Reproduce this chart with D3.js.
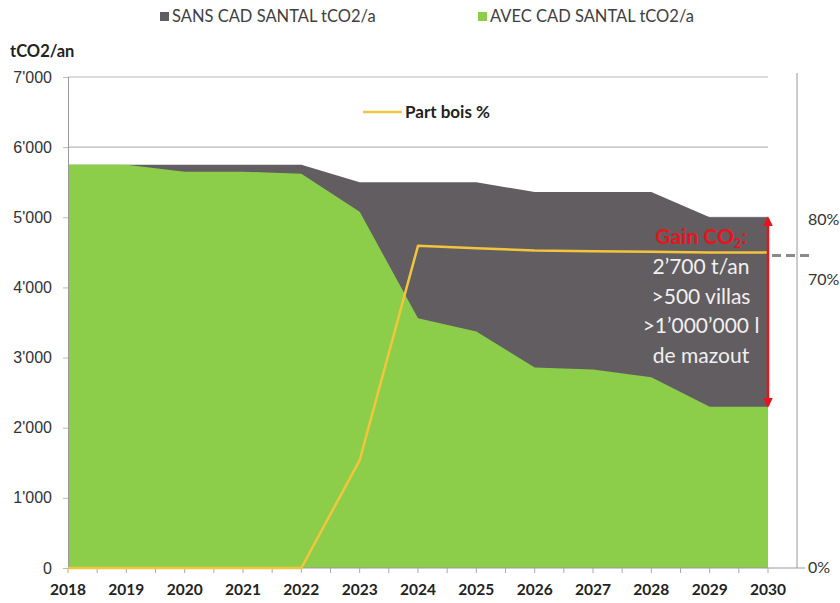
<!DOCTYPE html>
<html>
<head>
<meta charset="utf-8">
<script src="https://cdn.jsdelivr.net/npm/d3@7"></script>
<style>
  body { margin: 0; background: #fff; }
  svg { font-family: Lato, "Open Sans", sans-serif; }
</style>
</head>
<body>
<div id="chart"></div>
<script>
// values
const years = [2018, 2019, 2020, 2021, 2022, 2023, 2024, 2025, 2026, 2027, 2028, 2029, 2030];
const sansCad = [5750, 5750, 5750, 5750, 5750, 5500, 5500, 5500, 5360, 5360, 5360, 5000, 5000];
const avecCad = [5750, 5750, 5650, 5650, 5620, 5080, 3560, 3370, 2860, 2830, 2720, 2300, 2300];
const partBois = [0, 0, 0, 0, 0, 0.262, 0.757, 0.753, 0.749, 0.748, 0.747, 0.746, 0.746];
const yTicks = [0, 1000, 2000, 3000, 4000, 5000, 6000, 7000];
const pctTicks = [0, 0.7, 0.8];
const legendLabels = ["SANS CAD SANTAL tCO2/a", "AVEC CAD SANTAL tCO2/a"];
const gainLines = ["2\u2019700 t/an", ">500 villas", ">1\u2019000\u2019000 l", "de mazout"];

const width = 840, height = 603;
const margin = { top: 77, right: 72, bottom: 35, left: 68 };
const colSans = "#625d61", colAvec = "#8cce4a", colBois = "#f3c53c", colRed = "#e8141b";

const data = years.map((yr, i) => ({ year: yr, sans: sansCad[i], avec: avecCad[i], bois: partBois[i] }));

const svg = d3.select("#chart").append("svg")
  .attr("width", width)
  .attr("height", height);

let x = d3.scaleLinear()
  .domain([2018, 2030])
  .range([margin.left, 768]);

let y = d3.scaleLinear()
  .domain([0, 7000])
  .range([height - margin.bottom, margin.top]);

// secondary axis is not linear in the original (labels were placed by hand)
let yPct = d3.scaleLinear()
  .domain([0, 0.7, 0.8])
  .range([height - margin.bottom, 280, 220]);

const fmt = d => d3.format(",")(d).replace(/,/g, "'");

// gridlines
svg.append("g")
  .selectAll("line")
  .data(yTicks.slice(1))
  .join("line")
  .attr("x1", x(2018)).attr("x2", x(2030))
  .attr("y1", d => y(d)).attr("y2", d => y(d))
  .attr("stroke", "#b8b8b8")
  .attr("stroke-width", 1.2);

// areas
let areaSans = d3.area()
  .x(d => x(d.year))
  .y0(y(0))
  .y1(d => y(d.sans));

let areaAvec = d3.area()
  .x(d => x(d.year))
  .y0(y(0))
  .y1(d => y(d.avec));

svg.append("path").datum(data).attr("fill", colSans).attr("d", areaSans);
svg.append("path").datum(data).attr("fill", colAvec).attr("d", areaAvec);

// left axis
let yAxis = g => g
  .attr("transform", `translate(${margin.left},0)`)
  .call(d3.axisLeft(y).tickValues(yTicks).tickFormat(fmt).tickSize(5).tickPadding(11))
  .call(g => g.select(".domain").attr("stroke", "#999"))
  .call(g => g.selectAll(".tick line").attr("stroke", "#bbb"))
  .call(g => g.selectAll("text").attr("fill", "#333").attr("font-size", 16));

svg.append("g").call(yAxis);

// bottom axis (half-year minor ticks)
const xEnd = 797;
const halfTicks = d3.range(2018, 2030.5, 0.5);
svg.append("line")
  .attr("x1", margin.left).attr("x2", xEnd)
  .attr("y1", y(0)).attr("y2", y(0))
  .attr("stroke", "#999");
svg.append("g")
  .selectAll("line")
  .data(halfTicks)
  .join("line")
  .attr("x1", d => x(d)).attr("x2", d => x(d))
  .attr("y1", y(0)).attr("y2", y(0) + 5)
  .attr("stroke", "#aaa");
svg.append("g")
  .selectAll("text")
  .data(years)
  .join("text")
  .attr("x", d => x(d))
  .attr("y", y(0) + 27)
  .attr("text-anchor", "middle")
  .attr("font-size", 15.5)
  .attr("font-weight", "bold")
  .attr("fill", "#222")
  .text(d => d);

// right axis
svg.append("line")
  .attr("x1", xEnd).attr("x2", xEnd)
  .attr("y1", 73).attr("y2", y(0))
  .attr("stroke", "#999");
svg.append("line")
  .attr("x1", xEnd).attr("x2", xEnd + 8)
  .attr("y1", y(0)).attr("y2", y(0))
  .attr("stroke", "#999");
svg.append("g")
  .selectAll("text")
  .data(pctTicks)
  .join("text")
  .attr("x", 808)
  .attr("y", d => yPct(d) + 5)
  .attr("font-size", 16)
  .attr("fill", "#333")
  .text(d => d3.format(".0%")(d));

// part bois line
let line = d3.line()
  .x(d => x(d.year))
  .y(d => yPct(d.bois));

svg.append("path")
  .datum(data)
  .attr("fill", "none")
  .attr("stroke", colBois)
  .attr("stroke-width", 2.5)
  .attr("stroke-linejoin", "round")
  .attr("d", line);

// dashed marker to the right axis
const last = data[data.length - 1];
svg.append("line")
  .attr("x1", x(2030) + 4).attr("x2", 812)
  .attr("y1", yPct(last.bois) + 3).attr("y2", yPct(last.bois) + 3)
  .attr("stroke", "#8a8a8a")
  .attr("stroke-width", 3)
  .attr("stroke-dasharray", "9,5");

// gain arrow
const defs = svg.append("defs");
defs.append("marker")
  .attr("id", "arr")
  .attr("viewBox", "0 0 10 10")
  .attr("refX", 8).attr("refY", 5)
  .attr("markerWidth", 4).attr("markerHeight", 4)
  .attr("orient", "auto-start-reverse")
  .append("path")
  .attr("d", "M0,0 L10,5 L0,10 z")
  .attr("fill", colRed);

svg.append("line")
  .attr("x1", x(2030)).attr("x2", x(2030))
  .attr("y1", y(last.sans) + 1).attr("y2", y(last.avec) - 1)
  .attr("stroke", colRed)
  .attr("stroke-width", 2.5)
  .attr("marker-start", "url(#arr)")
  .attr("marker-end", "url(#arr)");

// gain annotation
const cx = 701;
const gain = svg.append("text")
  .attr("x", cx).attr("y", 244)
  .attr("text-anchor", "middle")
  .attr("font-size", 21)
  .attr("font-weight", "bold")
  .attr("fill", colRed);
gain.append("tspan").text("Gain CO");
gain.append("tspan").attr("font-size", 13).attr("dy", 4).text("2");
gain.append("tspan").attr("dy", -4).text(":");

svg.append("g")
  .selectAll("text")
  .data(gainLines)
  .join("text")
  .attr("x", cx)
  .attr("y", (d, i) => 274 + i * 29.5)
  .attr("text-anchor", "middle")
  .attr("font-size", 21)
  .attr("fill", "#f0f0f0")
  .text(d => d);

// y title
svg.append("text")
  .attr("x", 10).attr("y", 57)
  .attr("font-size", 16.5)
  .attr("font-weight", "bold")
  .attr("fill", "#222")
  .text("tCO2/an");

// top legend
const legend = svg.append("g")
  .selectAll("g")
  .data(legendLabels)
  .join("g")
  .attr("transform", (d, i) => `translate(${[160, 478][i]},12)`);
legend.append("rect")
  .attr("width", 9).attr("height", 9)
  .attr("fill", (d, i) => [colSans, colAvec][i]);
legend.append("text")
  .attr("x", 12).attr("y", 10)
  .attr("font-size", 16.5)
  .attr("fill", "#404040")
  .text(d => d);

// line legend
svg.append("line")
  .attr("x1", 363).attr("x2", 402)
  .attr("y1", 112).attr("y2", 112)
  .attr("stroke", colBois)
  .attr("stroke-width", 2.5);
svg.append("text")
  .attr("x", 405).attr("y", 118)
  .attr("font-size", 17)
  .attr("font-weight", "bold")
  .attr("fill", "#222")
  .text("Part bois %");
</script>
</body>
</html>
